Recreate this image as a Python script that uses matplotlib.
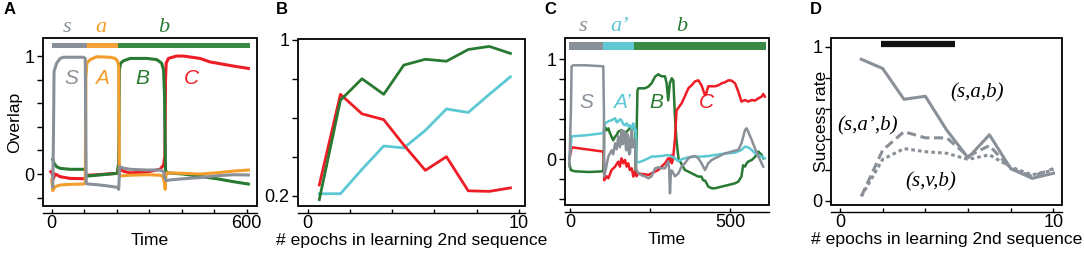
import matplotlib
matplotlib.use("Agg")
import matplotlib.pyplot as plt
from matplotlib.patches import Rectangle

plt.rcParams['font.family'] = ['Liberation Sans', 'DejaVu Sans']

GRAY = '#8a9098'
ORANGE = '#f59d2a'
GREEN = '#287a32'
RED = '#ee1c24'
CYAN = '#5cc8d3'
BAR_GRAY = '#8a9099'
BAR_ORANGE = '#f7a13a'
BAR_GREEN = '#3a8a46'
BAR_CYAN = '#5ec9d3'

# ---------------- Panel A data ----------------
a_seg_bounds = [0, 108, 205, 610]
a_seg_labels = ['s', 'a', 'b']
a_S_t = [3, 5, 7, 15, 26, 36, 97, 103, 106, 113, 138, 169, 202, 206, 209, 221, 241, 292, 333, 344, 346, 352, 364, 405, 456, 508, 559, 605]
a_S_v = [-0.11, 0.3, 0.87, 0.94, 0.98, 0.99, 0.99, 0.98, -0.08, -0.085, -0.09, -0.10, -0.113, -0.13, 0.062, 0.05, 0.04, 0.034, 0.034, 0.02, -0.02, -0.056, -0.05, -0.04, -0.03, -0.015, -0.006, -0.008]
a_A_t = [0, 3, 10, 26, 56, 97, 103, 105, 108, 118, 138, 179, 195, 202, 206, 208, 215, 241, 292, 333, 342, 347, 349, 351, 354, 405, 456, 508, 559, 605]
a_A_v = [-0.05, -0.14, -0.107, -0.093, -0.088, -0.085, -0.08, 0.82, 0.94, 0.97, 0.994, 0.99, 0.98, 0.96, 0.91, -0.02, -0.015, -0.01, -0.006, -0.01, -0.02, -0.08, -0.13, -0.02, 0.01, 0.006, 0.0, 0.01, 0.025, 0.034]
a_B_t = [3, 7, 15, 26, 56, 103, 105, 110, 138, 202, 206, 208, 212, 221, 241, 292, 323, 338, 344, 347, 350, 354, 405, 456, 508, 559, 605]
a_B_v = [0.124, 0.09, 0.062, 0.048, 0.04, 0.04, -0.02, -0.017, -0.01, 0.006, 0.1, 0.88, 0.94, 0.96, 0.98, 0.98, 0.97, 0.94, 0.88, 0.66, 0.034, 0.01, 0.0, -0.02, -0.04, -0.065, -0.085]
a_C_t = [-3, 1, 5, 10, 15, 26, 56, 103, 106, 113, 138, 202, 206, 210, 221, 241, 292, 333, 344, 348, 350, 352, 359, 384, 405, 456, 487, 508, 559, 605]
a_C_v = [0.02, 0.006, -0.037, 0.0, -0.006, -0.023, -0.037, -0.04, -0.017, -0.01, -0.006, 0.006, 0.076, 0.04, 0.023, 0.01, 0.017, 0.04, 0.076, 0.15, 0.8, 0.94, 0.98, 1.0, 1.0, 0.98, 0.95, 0.94, 0.915, 0.895]

# ---------------- Panel B data ----------------
b_epochs = [0.55, 1.55, 2.57, 3.6, 4.55, 5.57, 6.57, 7.6, 8.6, 9.6]
b_green = [0.18, 0.69, 0.80, 0.72, 0.87, 0.90, 0.89, 0.95, 0.966, 0.93]
b_red = [0.255, 0.72, 0.62, 0.59, 0.46, 0.33, 0.40, 0.225, 0.222, 0.24]
b_cyan = [0.21, 0.21, 0.335, 0.455, 0.445, 0.535, 0.645, 0.627, 0.72, 0.81]

# ---------------- Panel C data ----------------
c_seg_bounds = [-2, 104, 200, 614]
c_seg_labels = ['s', 'a\u2019', 'b']
c_S_t = [-2, 3, 5, 10, 50, 104, 106, 107, 112, 120, 130, 135, 141, 146, 151, 156, 161, 164, 167, 170, 172, 175, 177, 180, 182, 185, 187.5, 190, 193, 196, 198, 201, 203, 206, 214, 224, 234, 245, 255, 266, 276, 286, 297, 307, 310, 312.5, 315, 318, 328, 339, 349, 359, 370, 380, 391, 401, 411, 422, 432, 443, 453, 464, 474, 484, 495, 505, 516, 526, 536, 547, 552, 557, 568, 578, 589, 599, 604]
c_S_v = [-0.07, 0.5, 0.93, 0.94, 0.94, 0.93, 0.5, -0.17, -0.1, 0.03, 0.09, 0.05, 0.16, 0.1, 0.23, 0.12, 0.29, 0.15, 0.16, 0.28, 0.26, 0.1, 0.09, 0.25, 0.22, 0.05, 0.06, 0.2, 0.29, 0.12, 0.13, 0.2, 0.19, -0.1, -0.14, -0.16, -0.17, -0.19, -0.17, -0.09, -0.08, -0.09, -0.09, -0.02, -0.1, -0.34, -0.15, -0.11, -0.17, -0.14, -0.07, -0.04, 0.01, 0.027, 0.033, 0.01, -0.04, -0.107, -0.04, -0.007, 0.01, 0.027, 0.043, 0.06, 0.067, 0.077, 0.087, 0.093, 0.16, 0.293, 0.31, 0.277, 0.193, 0.11, 0.027, -0.04, -0.073]
c_A_t = [-2, 3, 5, 50, 100, 104, 106, 110, 120, 130, 141, 146, 151, 156, 161, 167, 172, 177, 182, 187, 193, 198, 203, 205, 207, 214, 224, 234, 245, 255, 266, 287, 307, 318, 328, 339, 349, 359, 370, 391, 411, 432, 453, 474, 495, 516, 536, 547, 557, 568, 578, 589, 599, 609]
c_A_v = [0.0, 0.15, 0.23, 0.24, 0.26, 0.26, 0.3, 0.36, 0.38, 0.39, 0.41, 0.37, 0.38, 0.4, 0.39, 0.35, 0.34, 0.36, 0.33, 0.34, 0.31, 0.36, 0.29, 0.3, -0.02, -0.03, -0.02, -0.007, 0.01, 0.027, 0.027, 0.033, 0.043, 0.027, 0.01, -0.02, 0.0, 0.01, 0.02, 0.027, 0.027, 0.033, 0.043, 0.053, 0.06, 0.067, 0.093, 0.127, 0.12, 0.093, 0.06, 0.043, 0.027, 0.01]
c_B_t = [-2, 3, 5, 15, 60, 104, 106, 107, 112, 115, 120, 125, 130, 135, 141, 146, 151, 161, 172, 182, 193, 203, 206, 209, 211, 214, 224, 234, 245, 255, 266, 276, 286, 297, 302, 307, 312, 318, 323, 328, 333, 339, 344, 349, 359, 370, 380, 391, 401, 411, 416, 422, 427, 432, 443, 453, 474, 495, 516, 526, 536, 541, 547, 552, 557, 568, 578, 589, 599, 604]
c_B_v = [-0.04, -0.11, -0.11, -0.12, -0.127, -0.12, 0.1, 0.33, 0.31, 0.29, 0.31, 0.26, 0.227, 0.19, 0.227, 0.243, 0.277, 0.293, 0.26, 0.293, 0.327, 0.293, -0.14, 0.4, 0.69, 0.71, 0.71, 0.71, 0.727, 0.76, 0.827, 0.85, 0.83, 0.83, 0.76, 0.59, 0.76, 0.81, 0.79, 0.43, 0.19, 0.01, -0.02, -0.05, -0.107, -0.123, -0.14, -0.157, -0.173, -0.173, -0.21, -0.213, -0.24, -0.273, -0.29, -0.29, -0.273, -0.257, -0.24, -0.223, -0.173, -0.06, -0.073, -0.04, -0.023, -0.007, 0.023, 0.077, 0.043, 0.01]
c_C_t = [-2, 3, 5, 104, 106, 107, 115, 120, 130, 141, 151, 156, 161, 167, 172, 177, 182, 187, 193, 198, 203, 208, 214, 224, 234, 245, 255, 266, 276, 286, 297, 307, 312, 316, 318, 322, 328, 333, 349, 359, 370, 380, 391, 401, 411, 422, 427, 432, 443, 453, 464, 474, 484, 495, 505, 516, 526, 536, 547, 557, 568, 578, 589, 599, 604, 609]
c_C_v = [0.0, 0.08, 0.12, 0.077, 0.0, -0.21, -0.17, -0.19, -0.107, -0.073, -0.023, -0.073, 0.01, -0.04, -0.007, -0.073, -0.04, -0.107, -0.09, -0.173, -0.123, -0.17, -0.14, -0.147, -0.15, -0.157, -0.14, -0.123, -0.107, -0.073, -0.04, 0.01, -0.02, 0.04, -0.04, 0.0, 0.2, 0.49, 0.56, 0.63, 0.71, 0.74, 0.78, 0.79, 0.74, 0.64, 0.67, 0.73, 0.73, 0.73, 0.74, 0.76, 0.77, 0.79, 0.787, 0.76, 0.677, 0.577, 0.593, 0.577, 0.593, 0.587, 0.61, 0.627, 0.653, 0.627]

# ---------------- Panel D data ----------------
d_epochs = [1, 2, 3, 4, 5, 6, 7, 8, 9, 10]
d_sab = [0.92, 0.86, 0.66, 0.68, 0.46, 0.28, 0.43, 0.21, 0.147, 0.18]
d_sapb = [0.03, 0.33, 0.45, 0.41, 0.41, 0.29, 0.36, 0.21, 0.16, 0.21]
d_svb = [0.03, 0.27, 0.34, 0.32, 0.31, 0.27, 0.30, 0.22, 0.17, 0.20]
d_sig_range = [1.9, 5.4]

W, H = 1084, 256
LABEL_FS = 12.6
fig = plt.figure(figsize=(W / 100, H / 100), dpi=100)


def px_axes(l, r, t, b):
    return fig.add_axes([l / W, 1 - b / H, (r - l) / W, (b - t) / H])


def style(ax, xticks, xlabels, yticks, ylabels):
    for s in ['top', 'right', 'left', 'bottom']:
        ax.spines[s].set_visible(False)
    ax.add_patch(Rectangle((0, 0), 1, 1, transform=ax.transAxes, fill=False,
                           lw=1.3, edgecolor='black', clip_on=False, zorder=10))
    ax.spines['bottom'].set_visible(True)
    ax.spines['bottom'].set_position(('outward', 5))
    ax.spines['bottom'].set_linewidth(1.0)
    ax.set_xticks(xticks)
    ax.set_xticklabels(xlabels)
    ax.set_yticks(yticks)
    ax.set_yticklabels(ylabels)
    ax.tick_params(axis='x', direction='in', length=3, width=1.0, pad=1.5, labelsize=13)
    ax.tick_params(axis='y', direction='out', length=4, width=1.0, pad=2, labelsize=13)


def ylab_at(ax, text, xpix):
    # xpix: figure pixel of the label's right edge (label is rotated)
    bb = ax.get_position()
    xa = (xpix / W - bb.x0) / bb.width
    ax.set_ylabel(text, fontsize=LABEL_FS)
    ax.yaxis.set_label_coords(xa, 0.5)


# ---------------- Panel A ----------------
axA = px_axes(42.5, 256.5, 38, 206)
axA.plot(a_C_t, a_C_v, color=RED, lw=2.2)
axA.plot(a_B_t, a_B_v, color=GREEN, lw=2.2)
axA.plot(a_A_t, a_A_v, color=ORANGE, lw=2.2)
axA.plot(a_S_t, a_S_v, color=GRAY, lw=2.2)
axA.set_xlim(-28.6, 630)
axA.set_ylim(-0.271, 1.153)
for i, col in enumerate([BAR_GRAY, BAR_ORANGE, BAR_GREEN]):
    axA.fill_between([a_seg_bounds[i], a_seg_bounds[i + 1]], 1.065, 1.108, color=col, lw=0)
    axA.text([48, 150, 344][i], 1.24, a_seg_labels[i],
             color=[GRAY, ORANGE, GREEN][i], fontsize=16, family='Liberation Serif',
             style='italic', ha='center', va='center', clip_on=False)
for txt, x, c in [('S', 61, GRAY), ('A', 154, ORANGE), ('B', 277, GREEN), ('C', 431, RED)]:
    axA.text(x, 0.81, txt, color=c, fontsize=15, style='italic', ha='center', va='center')
style(axA, [0, 100, 200, 300, 400, 500, 600], ['0', '', '', '', '', '', '600'],
      [-0.2, 0, 0.2, 0.4, 0.6, 0.8, 1.0], ['', '0', '', '', '', '', '1'])
axA.set_xlabel('Time', fontsize=LABEL_FS, labelpad=1)
ylab_at(axA, 'Overlap', 22)
fig.text(4 / W, 1 - 10 / H, 'A', fontsize=12, fontweight='bold', va='center')

# ---------------- Panel B ----------------
axB = px_axes(298, 525, 39, 206)
axB.plot(b_epochs, b_cyan, color=CYAN, lw=2.0)
axB.plot(b_epochs, b_red, color=RED, lw=2.0)
axB.plot(b_epochs, b_green, color=GREEN, lw=2.0)
axB.set_xlim(-0.46, 10.29)
axB.set_ylim(0.147, 1.004)
style(axB, [0, 2, 4, 6, 8, 10], ['0', '', '', '', '', '10'],
      [0.2, 0.4, 0.6, 0.8, 1.0], ['0.2', '', '', '', '1'])
axB.set_xlabel('# epochs in learning 2nd sequence', fontsize=LABEL_FS, labelpad=1)
fig.text(276 / W, 1 - 10 / H, 'B', fontsize=12, fontweight='bold', va='center')

# ---------------- Panel C ----------------
axC = px_axes(565, 769, 38, 205)
axC.plot(c_B_t, c_B_v, color=GREEN, lw=1.8)
axC.plot(c_C_t, c_C_v, color=RED, lw=1.8)
axC.plot(c_A_t, c_A_v, color=CYAN, lw=1.8)
axC.plot(c_S_t, c_S_v, color=GRAY, lw=1.8)
axC.set_xlim(-15.6, 622)
axC.set_ylim(-0.457, 1.213)
for i, col in enumerate([BAR_GRAY, BAR_CYAN, BAR_GREEN]):
    axC.fill_between([c_seg_bounds[i], c_seg_bounds[i + 1]], 1.093, 1.176, color=col, lw=0)
    axC.text([42, 156, 349][i], 1.33, c_seg_labels[i],
             color=[GRAY, CYAN, GREEN][i], fontsize=16, family='Liberation Serif',
             style='italic', ha='center', va='center', clip_on=False)
for txt, x, c in [('S', 52, GRAY), ('A\u2019', 163, CYAN), ('B', 271, GREEN), ('C', 427, RED)]:
    axC.text(x, 0.57, txt, color=c, fontsize=15, style='italic', ha='center', va='center')
style(axC, [0, 250, 500], ['0', '', '500'],
      [-0.4, -0.2, 0, 0.2, 0.4, 0.6, 0.8, 1.0], ['', '', '0', '', '', '', '', '1'])
axC.set_xlabel('Time', fontsize=LABEL_FS, labelpad=1)
fig.text(544 / W, 1 - 10 / H, 'C', fontsize=12, fontweight='bold', va='center')

# ---------------- Panel D ----------------
axD = px_axes(831, 1062, 38, 205)
axD.plot(d_epochs, d_sab, color=GRAY, lw=2.2, ls='-')
axD.plot(d_epochs, d_sapb, color=GRAY, lw=2.2, ls=(0, (3, 1.5)))
axD.plot(d_epochs, d_svb, color=GRAY, lw=2.2, ls=(0, (1.2, 1.0)))
axD.plot(d_sig_range, [1.018, 1.018], color='#111111', lw=4.5, solid_capstyle='butt')
axD.set_xlim(-0.42, 10.4)
axD.set_ylim(-0.026, 1.058)
axD.text(6.4, 0.70, '(s,a,b)', fontsize=15, family='Liberation Serif', style='italic',
         ha='center', va='center')
axD.text(1.3, 0.49, '(s,a\u2019,b)', fontsize=15, family='Liberation Serif', style='italic',
         ha='center', va='center')
axD.text(4.25, 0.125, '(s,v,b)', fontsize=15, family='Liberation Serif', style='italic',
         ha='center', va='center')
style(axD, [0, 2, 4, 6, 8, 10], ['0', '', '', '', '', '10'],
      [0, 0.2, 0.4, 0.6, 0.8, 1.0], ['0', '', '', '', '', '1'])
axD.set_xlabel('# epochs in learning 2nd sequence', fontsize=LABEL_FS, labelpad=1)
ylab_at(axD, 'Success rate', 829)
fig.text(810 / W, 1 - 10 / H, 'D', fontsize=12, fontweight='bold', va='center')

fig.savefig('out.png', dpi=100)
